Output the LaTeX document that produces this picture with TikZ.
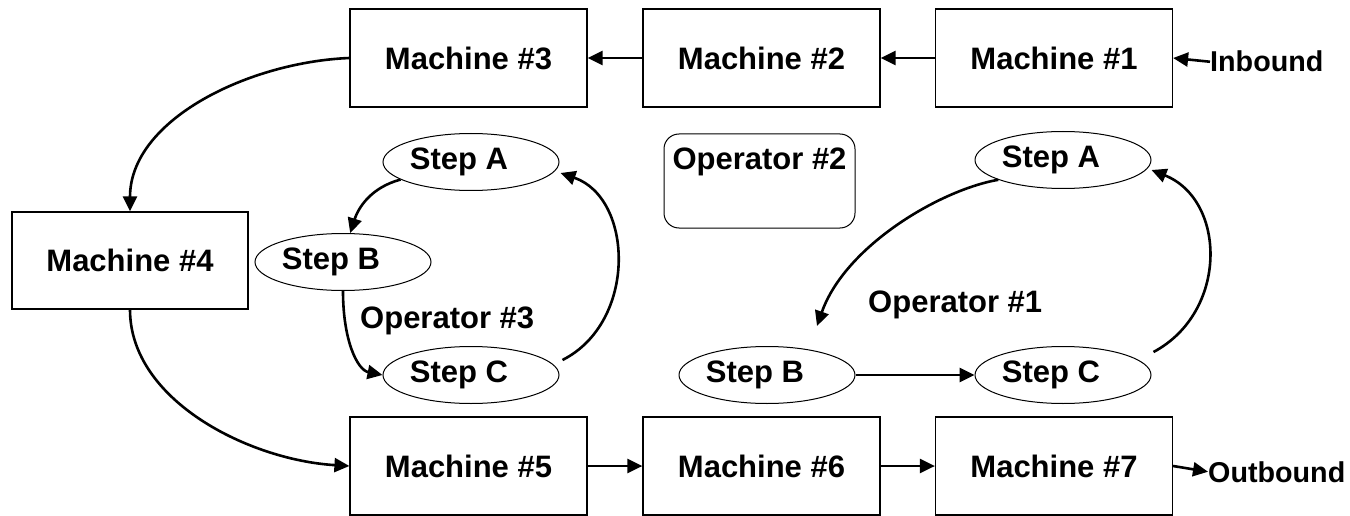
\documentclass[tikz,border=0pt]{standalone}
\usepackage{fontspec}
\setmainfont{Liberation Sans}
\usetikzlibrary{arrows.meta,shapes.geometric}
\begin{document}
\begin{tikzpicture}[x=1pt,y=-1pt,
  font=\fontsize{31}{36}\selectfont\bfseries,
  mach/.style={draw, line width=1.2pt, minimum width=237pt, minimum height=98pt, inner sep=0pt},
  stepnode/.style={draw, ellipse, line width=1pt, minimum width=176pt, minimum height=57pt, inner sep=0pt},
  opbox/.style={draw, line width=1pt, rounded corners=15pt, minimum width=191pt, inner xsep=0pt, inner ysep=13pt, text height=23pt, text depth=45pt},
  txt/.style={inner sep=0pt},
  endtxt/.style={inner sep=0pt, font=\fontsize{28.7}{34}\selectfont\bfseries},
  conn/.style={line width=2.6pt, -{Triangle[length=15pt,width=14pt]}},
]
\useasboundingbox (0,0) rectangle (1350,516);
% machines
\node[mach] (m3) at (468.5,58) {Machine \#3};
\node[mach] (m2) at (761.5,58) {Machine \#2};
\node[mach] (m1) at (1054,58) {Machine \#1};
\node[mach, minimum width=236pt, minimum height=97pt] (m4) at (130,260.5) {Machine \#4};
\node[mach] (m5) at (468.5,466) {Machine \#5};
\node[mach] (m6) at (761.5,466) {Machine \#6};
\node[mach] (m7) at (1054,466) {Machine \#7};
% labels
\node[endtxt, anchor=base west] (inb) at (1210,72) {Inbound};
\node[endtxt, anchor=base west] (outb) at (1208,482) {Outbound};
\node[txt, anchor=base west] (op3) at (360,328) {Operator \#3};
\node[txt, anchor=base west] (op1) at (868,312) {Operator \#1};
\node[opbox] (op2) at (759.5,181) {Operator \#2};
% left steps
\node[stepnode] (la) at (471,162) {\hspace*{-24pt}Step A};
\node[stepnode] (lb) at (343,262) {\hspace*{-24pt}Step B};
\node[stepnode] (lc) at (471,375) {\hspace*{-24pt}Step C};
% right steps
\node[stepnode] (ra) at (1063,160) {\hspace*{-24pt}Step A};
\node[stepnode] (rb) at (767,375) {\hspace*{-24pt}Step B};
\node[stepnode] (rc) at (1063,375) {\hspace*{-24pt}Step C};
% machine flow
\draw[conn] (inb.west) -- (m1.east);
\draw[conn] (m1.west) -- (m2.east);
\draw[conn] (m2.west) -- (m3.east);
\draw[conn] (m3.west) .. controls +(-100,4) and +(0,-92) .. (m4.north);
\draw[conn] (m4.south) .. controls +(0,91) and +(-100,-6) .. (m5.west);
\draw[conn] (m5.east) -- (m6.west);
\draw[conn] (m6.east) -- (m7.west);
\draw[conn] (m7.east) -- (outb.west);
% left loop
\draw[conn] (la.194) .. controls +(-30,8) and +(8,-25) .. (lb.76);
\draw[conn] (lb.south) .. controls +(0,50) and +(-25,-5) .. (lc.west);
\draw[conn] ([shift={(3,-15)}]lc.east) .. controls +(75,-38) and +(73,25) .. ([shift={(1,11)}]la.east);
% right loop
\draw[conn] (ra.197) .. controls +(-58,10) and +(28,-80) .. ([shift={(50,-20)}]rb.north);
\draw[conn] (rb.east) -- (rc.west);
\draw[conn] ([shift={(2,-23)}]rc.east) .. controls +(75,-40) and +(75,30) .. ([shift={(0,10)}]ra.east);
\end{tikzpicture}
\end{document}
